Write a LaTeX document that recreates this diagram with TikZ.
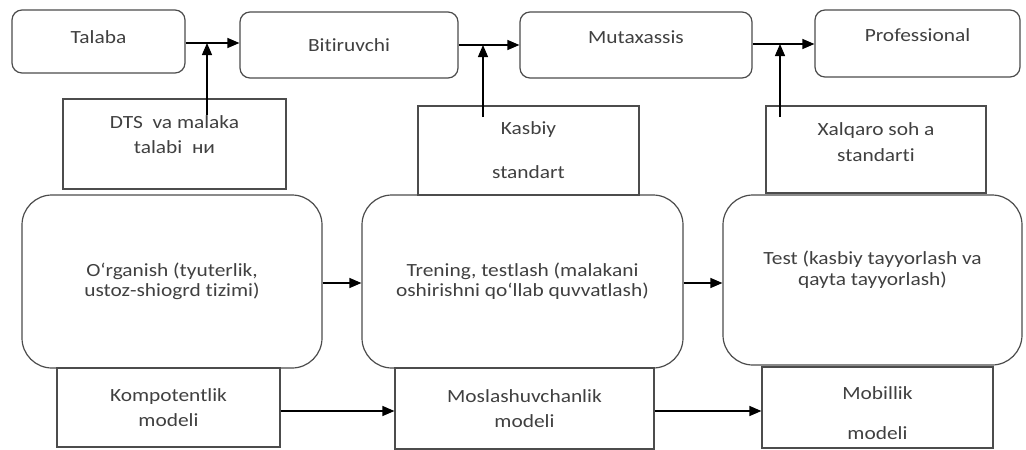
\documentclass[tikz,border=0pt]{standalone}
\usepackage{xcolor}
\usepackage{fontspec}
\setmainfont{Carlito}[FakeStretch=1.15,Ligatures=NoCommon]
\usetikzlibrary{shapes,arrows.meta}

\tikzset{
    stage/.style={
        draw=black!70,
        line width=1.2pt,
        rounded corners=10pt,
        inner sep=0pt,
        align=center,
        text=black!75,
        font=\fontsize{18.6}{21}\selectfont
    },
    norm/.style={
        stage,
        rounded corners=0pt,
        fill=white
    },
    process/.style={
        stage,
        rounded corners=30pt
    },
    flow/.style={
        line width=1.3pt,
        -{Triangle[length=12pt,width=10pt]}
    }
}

\begin{document}
\begin{tikzpicture}[x=1pt,y=-1pt]
    \useasboundingbox (0,0) rectangle (1026,450);

    % top row
    \node[stage, minimum width=173pt, minimum height=63pt, text depth=8pt] (talaba) at (98.5,41.5) {Talaba};
    \node[stage, minimum width=218pt, minimum height=66pt] (bitiruvchi) at (349,45) {Bitiruvchi};
    \node[stage, minimum width=232pt, minimum height=66pt, text depth=16pt] (mutaxassis) at (636,45) {Mutaxassis};
    \node[stage, minimum width=205pt, minimum height=67pt, text depth=16pt] (professional) at (917.5,43.5) {Professional};

    % big process boxes
    \node[process, minimum width=300pt, minimum height=173pt] (organish) at (172,281.5)
        {O‘rganish (tyuterlik,\\[-1pt]ustoz-shiogrd tizimi)};
    \node[process, minimum width=321pt, minimum height=173pt] (trening) at (522.5,281.5)
        {Trening, testlash (malakani\\[-1pt]oshirishni qo‘llab quvvatlash)};
    \node[process, minimum width=299pt, minimum height=170pt, text depth=24pt] (test) at (872.5,280)
        {Test (kasbiy tayyorlash va\\qayta tayyorlash)};

    % standards
    \node[norm, minimum width=223pt, minimum height=90pt, text depth=18pt] (dts) at (174.5,144)
        {DTS~ va malaka\\[4pt]talabi~ ни};
    \node[norm, minimum width=221pt, minimum height=89pt] (kasbiy) at (528.5,150.5)
        {Kasbiy\\[23pt]standart};
    \node[norm, minimum width=220pt, minimum height=87pt, text depth=14pt] (xalqaro) at (876,149.5)
        {Xalqaro soh a\\[5pt]standarti};

    % models
    \node[norm, minimum width=223pt, minimum height=79pt] (kompot) at (168.5,407.5)
        {Kompotentlik\\[4pt]modeli};
    \node[norm, minimum width=259pt, minimum height=81pt] (moslash) at (524.5,408.5)
        {Moslashuvchanlik\\[4pt]modeli};
    \node[norm, minimum width=231pt, minimum height=81pt, text height=64pt] (mobil) at (877.5,407.5)
        {Mobillik\\[19pt]modeli};

    \coordinate (j1) at (207,43);
    \coordinate (j2) at (483,45);
    \coordinate (j3) at (780,44);
    \coordinate (s1) at (207,115);
    \coordinate (s2) at (483,117);
    \coordinate (s3) at (780,117);

    \draw[flow] (talaba.east |- j1) -- (bitiruvchi.west |- j1);
    \draw[flow] (bitiruvchi.east |- j2) -- (mutaxassis.west |- j2);
    \draw[flow] (mutaxassis.east |- j3) -- (professional.west |- j3);

    \draw[flow] (s1) -- (j1);
    \draw[flow] (s2) -- (j2);
    \draw[flow] (s3) -- (j3);

    \draw[flow] ([yshift=-1.5pt]organish.east) -- ([yshift=-1.5pt]organish.east -| trening.west);
    \draw[flow] ([yshift=-1.5pt]trening.east) -- ([yshift=-1.5pt]trening.east -| test.west);
    \draw[flow] ([yshift=-3.5pt]kompot.east) -- ([yshift=-3.5pt]kompot.east -| moslash.west);
    \draw[flow] ([yshift=-2.5pt]moslash.east) -- ([yshift=-2.5pt]moslash.east -| mobil.west);
\end{tikzpicture}
\end{document}
